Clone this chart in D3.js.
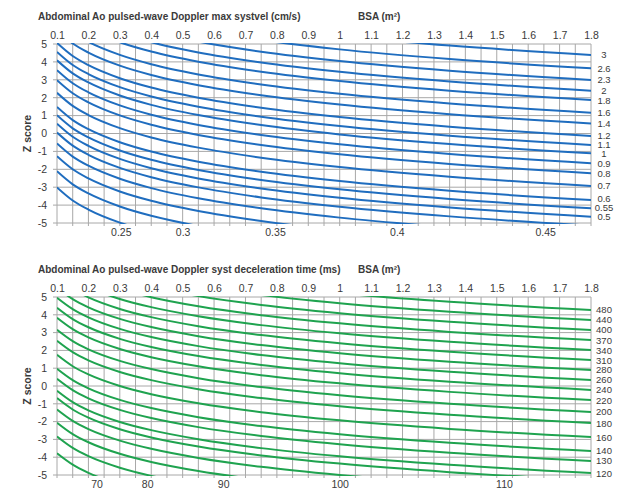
<!DOCTYPE html>
<html>
<head>
<meta charset="utf-8">
<script src="https://cdn.jsdelivr.net/npm/d3@7"></script>
<style>
  body { margin: 0; background: #fff; }
  text { font-family: "Liberation Sans", Arial, sans-serif; fill: #3a3a3a; }
</style>
</head>
<body>
<div id="chart"></div>
<script>
// BSA axis (top) and Z score axis
const bsaTicks = [0.1,0.2,0.3,0.4,0.5,0.6,0.7,0.8,0.9,1,1.1,1.2,1.3,1.4,1.5,1.6,1.7,1.8];
const zTicks = [5,4,3,2,1,0,-1,-2,-3,-4,-5];
// BSA points where each curve was read
const bsaPts = [0.1,0.15,0.2,0.3,0.4,0.55,0.75,1.0,1.35,1.8];

// panel 1: max syst vel
const velValues = [0.25,0.3,0.35,0.4,0.45,0.5,0.55,0.6,0.7,0.8,0.9,1,1.1,1.2,1.4,1.6,1.8,2,2.3,2.6,3];
const velZ = [
  [-3.01,-3.74,-4.25,-4.98,-5.50,-6.07,-6.63,-7.15,-7.69,-8.21],
  [-2.11,-2.84,-3.35,-4.08,-4.60,-5.17,-5.73,-6.25,-6.79,-7.31],
  [-1.27,-2.00,-2.51,-3.24,-3.76,-4.33,-4.89,-5.41,-5.95,-6.47],
  [-0.56,-1.29,-1.80,-2.53,-3.05,-3.62,-4.18,-4.70,-5.24,-5.76],
  [0.05,-0.68,-1.19,-1.92,-2.44,-3.01,-3.57,-4.09,-4.63,-5.15],
  [0.55,-0.18,-0.69,-1.42,-1.94,-2.51,-3.07,-3.59,-4.13,-4.65],
  [1.02,0.29,-0.22,-0.95,-1.47,-2.04,-2.60,-3.12,-3.66,-4.18],
  [1.48,0.75,0.24,-0.49,-1.01,-1.58,-2.14,-2.66,-3.20,-3.72],
  [2.27,1.54,1.03,0.30,-0.22,-0.79,-1.35,-1.87,-2.41,-2.93],
  [2.98,2.25,1.74,1.01,0.49,-0.08,-0.64,-1.16,-1.70,-2.22],
  [3.54,2.81,2.30,1.57,1.05,0.48,-0.08,-0.60,-1.14,-1.66],
  [4.09,3.36,2.85,2.12,1.60,1.03,0.47,-0.05,-0.59,-1.11],
  [4.56,3.83,3.32,2.59,2.07,1.50,0.94,0.42,-0.12,-0.64],
  [5.06,4.33,3.82,3.09,2.57,2.00,1.44,0.92,0.38,-0.14],
  [5.76,5.03,4.52,3.79,3.27,2.70,2.14,1.62,1.08,0.56],
  [6.36,5.63,5.12,4.39,3.87,3.30,2.74,2.22,1.68,1.16],
  [7.07,6.34,5.83,5.10,4.58,4.01,3.45,2.93,2.39,1.87],
  [7.59,6.86,6.35,5.62,5.10,4.53,3.97,3.45,2.91,2.39],
  [8.19,7.46,6.95,6.22,5.70,5.13,4.57,4.05,3.51,2.99],
  [8.84,8.11,7.60,6.87,6.35,5.78,5.22,4.70,4.16,3.64],
  [9.59,8.86,8.35,7.62,7.10,6.53,5.97,5.45,4.91,4.39]
];
const velBottomLabels = [0.25,0.3,0.35,0.4,0.45];
const velBottomBSA = [0.303,0.5,0.794,1.182,1.654];

// panel 2: syst deceleration time
const dtValues = [70,80,90,100,110,120,130,140,160,180,200,220,240,260,280,310,340,370,400,440,480];
const dtZ = [
  [-3.78,-4.42,-4.88,-5.53,-5.99,-6.50,-7.00,-7.46,-7.94,-8.40],
  [-2.84,-3.48,-3.94,-4.59,-5.05,-5.56,-6.06,-6.52,-7.00,-7.46],
  [-2.06,-2.70,-3.16,-3.81,-4.27,-4.78,-5.28,-5.74,-6.22,-6.68],
  [-1.32,-1.96,-2.42,-3.07,-3.53,-4.04,-4.54,-5.00,-5.48,-5.94],
  [-0.68,-1.32,-1.78,-2.43,-2.89,-3.40,-3.90,-4.36,-4.84,-5.30],
  [-0.27,-0.91,-1.37,-2.02,-2.48,-2.99,-3.49,-3.95,-4.43,-4.89],
  [0.41,-0.23,-0.69,-1.34,-1.80,-2.31,-2.81,-3.27,-3.75,-4.21],
  [0.97,0.33,-0.13,-0.78,-1.24,-1.75,-2.25,-2.71,-3.19,-3.65],
  [1.75,1.11,0.65,0.00,-0.46,-0.97,-1.47,-1.93,-2.41,-2.87],
  [2.54,1.90,1.44,0.79,0.33,-0.18,-0.68,-1.14,-1.62,-2.08],
  [3.16,2.52,2.06,1.41,0.95,0.44,-0.06,-0.52,-1.00,-1.46],
  [3.83,3.19,2.73,2.08,1.62,1.11,0.61,0.15,-0.33,-0.79],
  [4.40,3.76,3.30,2.65,2.19,1.68,1.18,0.72,0.24,-0.22],
  [4.96,4.32,3.86,3.21,2.75,2.24,1.74,1.28,0.80,0.34],
  [5.52,4.88,4.42,3.77,3.31,2.80,2.30,1.84,1.36,0.90],
  [6.08,5.44,4.98,4.33,3.87,3.36,2.86,2.40,1.92,1.46],
  [6.64,6.00,5.54,4.89,4.43,3.92,3.42,2.96,2.48,2.02],
  [7.20,6.56,6.10,5.45,4.99,4.48,3.98,3.52,3.04,2.58],
  [7.77,7.13,6.67,6.02,5.56,5.05,4.55,4.09,3.61,3.15],
  [8.33,7.69,7.23,6.58,6.12,5.61,5.11,4.65,4.17,3.71],
  [8.89,8.25,7.79,7.14,6.68,6.17,5.67,5.21,4.73,4.27]
];
const dtBottomLabels = [70,80,90,100,110];
const dtBottomBSA = [0.226,0.387,0.629,1.0,1.523];

const width = 623, height = 490;
const svg = d3.select("#chart").append("svg")
  .attr("width", width)
  .attr("height", height);

const x = d3.scaleLinear().domain([0.1, 1.8]).range([57, 591]);
const gridX = d3.range(0.1, 1.8001, 0.05);

function styleTicks(sel) {
  sel.select(".domain").remove();
  sel.selectAll("text")
    .attr("font-size", 10.5)
    .attr("fill", "#3a3a3a")
    .style("font-family", "Liberation Sans, Arial, sans-serif");
}

function drawPanel(o) {
  const y = d3.scaleLinear().domain([-5, 5]).range([o.bottom, o.top]);
  const g = svg.append("g");

  // titles
  g.append("text").attr("x", 38).attr("y", o.top - 24)
    .attr("font-size", 10).attr("font-weight", "bold").text(o.title);
  g.append("text").attr("x", 358).attr("y", o.top - 24)
    .attr("font-size", 10).attr("font-weight", "bold").text("BSA (m²)");

  // grid
  g.append("g").selectAll("line").data(gridX).enter().append("line")
    .attr("x1", d => x(d)).attr("x2", d => x(d))
    .attr("y1", o.top).attr("y2", o.bottom + 3)
    .attr("stroke", "#a8a8a8").attr("stroke-width", 1);
  g.append("g").selectAll("line").data(zTicks).enter().append("line")
    .attr("x1", 53).attr("x2", 591)
    .attr("y1", d => y(d)).attr("y2", d => y(d))
    .attr("stroke", "#a8a8a8").attr("stroke-width", 1);

  // top BSA axis
  g.append("g").attr("transform", `translate(0,${o.top})`)
    .call(d3.axisTop(x).tickValues(bsaTicks).tickSize(0).tickPadding(5).tickFormat(d => String(d)))
    .call(styleTicks);

  // Z score axis (plain hyphen minus, as in the original)
  g.append("g").attr("transform", "translate(57,0)")
    .call(d3.axisLeft(y).tickValues(zTicks).tickSize(0).tickPadding(10).tickFormat(d => String(d)))
    .call(styleTicks);

  g.append("text")
    .attr("transform", `translate(31,${(o.top + o.bottom) / 2}) rotate(-90)`)
    .attr("text-anchor", "middle").attr("font-size", 10.5).attr("font-weight", "bold")
    .text("Z score");

  // bottom value axis (curves leaving at Z = -5)
  g.append("g").attr("transform", `translate(0,${o.bottom})`)
    .call(d3.axisBottom(x).tickValues(o.bottomBSA).tickSize(0).tickPadding(6)
      .tickFormat((d, i) => o.bottomLabels[i]))
    .call(styleTicks);

  // curves
  const clipId = "clip" + o.id;
  svg.append("clipPath").attr("id", clipId).append("rect")
    .attr("x", 57).attr("y", o.top - 1).attr("width", 534).attr("height", o.bottom - o.top + 2);

  const line = d3.line()
    .x((d, i) => x(bsaPts[i]))
    .y(d => y(d))
    .curve(d3.curveMonotoneX);

  g.append("g").attr("clip-path", `url(#${clipId})`)
    .selectAll("path").data(o.z).enter().append("path")
    .attr("d", line)
    .attr("fill", "none")
    .attr("stroke", o.color)
    .attr("stroke-width", 2);

  // right-hand labels for curves that reach BSA 1.8 inside the grid
  // (ordered from the lowest curve upwards)
  const ends = o.values.map((v, i) => ({ v: v, ly: y(o.z[i][o.z[i].length - 1]) }))
    .filter(d => d.ly <= o.bottom && d.ly >= o.top);
  // nudge a label up a little when it sits too close to the one below it
  for (let i = 1; i < ends.length; i++) {
    if (ends[i].ly > ends[i - 1].ly - 9) ends[i].ly = ends[i - 1].ly - 9;
  }
  g.append("g").selectAll("text").data(ends).enter().append("text")
    .attr("x", 604).attr("y", d => d.ly + 3.5)
    .attr("text-anchor", "middle").attr("font-size", 9.5)
    .text(d => d.v);
}

drawPanel({
  id: 1, top: 44, bottom: 223, color: "#1f6dbf",
  title: "Abdominal  Ao pulsed-wave Doppler max systvel (cm/s)",
  values: velValues, z: velZ,
  bottomLabels: velBottomLabels, bottomBSA: velBottomBSA
});

drawPanel({
  id: 2, top: 297, bottom: 475, color: "#1fa34f",
  title: "Abdominal Ao pulsed-wave Doppler syst deceleration time (ms)",
  values: dtValues, z: dtZ,
  bottomLabels: dtBottomLabels, bottomBSA: dtBottomBSA
});
</script>
</body>
</html>
